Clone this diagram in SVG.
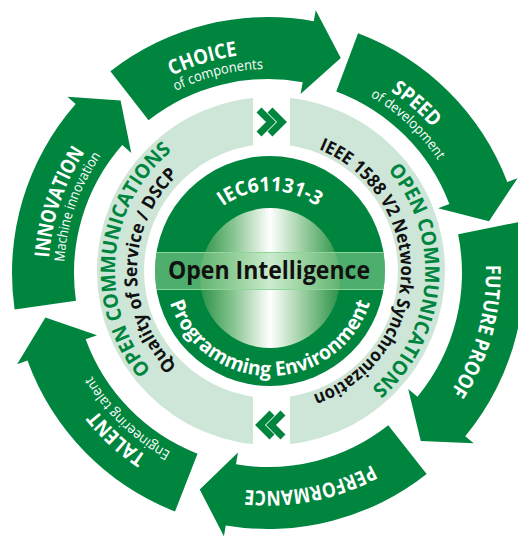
<svg xmlns="http://www.w3.org/2000/svg" width="518" height="539" viewBox="0 0 518 539">
<style>
  .arrow{fill:#00853e}
  .t{font-family:'Open Sans','Liberation Sans',sans-serif;text-anchor:middle}
  .big{font-weight:700;fill:#ffffff;font-size:20.5px}
  .small{font-weight:400;fill:#ffffff;font-size:14px}
  .oc{font-weight:700;fill:#00853e;font-size:20px}
  .blk{font-weight:700;fill:#111111;font-size:18px}
  .core{font-weight:700;fill:#ffffff;font-size:20px}
  .chev{fill:none;stroke:#00853e;stroke-width:7;stroke-linejoin:miter}
</style>
<defs>
  <!-- outer text arcs, centre 268,273, centred at top -->
  <path id="a219" d="M49.34,253.87 A219.5,219.5 0 0 1 486.66,253.87"/>
  <path id="a218" d="M50.83,254 A218,218 0 0 1 485.17,254"/>
  <path id="a204" d="M64.78,255.22 A204,204 0 0 1 471.22,255.22"/>
  <!-- inner text arcs, centre 270,271 -->
  <path id="a155" d="M115.59,257.49 A155,155 0 0 1 424.41,257.49"/>
  <path id="a133" d="M137.51,259.41 A133,133 0 0 1 402.49,259.41"/>
  <path id="a131" d="M139.50,259.58 A131,131 0 0 1 400.50,259.58"/>
  <path id="a80" d="M190.30,264.03 A80,80 0 0 1 349.70,264.03"/>
  <path id="a105b" d="M165.40,280.15 A105,105 0 0 0 374.60,280.15"/>
  <clipPath id="leftHalf"><rect x="0" y="0" width="253" height="539"/></clipPath>
  <clipPath id="rightHalf"><rect x="290" y="0" width="228" height="539"/></clipPath>
  <clipPath id="coreClip"><circle cx="270" cy="271" r="115"/></clipPath>
  <linearGradient id="cyl" x1="0" y1="0" x2="1" y2="0">
    <stop offset="0" stop-color="#2a9146"/>
    <stop offset="0.25" stop-color="#8cc794"/>
    <stop offset="0.5" stop-color="#ffffff"/>
    <stop offset="0.75" stop-color="#95cb9c"/>
    <stop offset="1" stop-color="#2a9146"/>
  </linearGradient>
</defs>

<rect width="518" height="539" fill="#ffffff"/>

<!-- outer arrows -->
<g id="choice">
  <path class="arrow" d="M110.39,71.27 A256,256 0 0 1 313.77,21.13 L315.74,10.30 L340.78,57.98 L300.54,93.93 L302.69,82.13 A194,194 0 0 0 148.56,120.13 Z"/>
  <text class="t big" transform="rotate(-17 268 273)"><textPath href="#a219" startOffset="50%" textLength="69" lengthAdjust="spacingAndGlyphs">CHOICE</textPath></text>
  <text class="t small" transform="rotate(-14.15 268 273)"><textPath href="#a204" startOffset="50%" textLength="91" lengthAdjust="spacingAndGlyphs">of components</textPath></text>
</g>
<g id="speed">
  <path class="arrow" d="M358.07,33.37 A256,256 0 0 1 507.32,182.09 L517.60,178.19 L489.00,221.16 L438.14,208.37 L449.36,204.11 A194,194 0 0 0 336.26,91.40 Z"/>
  <text class="t big" transform="rotate(41.25 268 273)"><textPath href="#a219" startOffset="50%" textLength="56" lengthAdjust="spacingAndGlyphs">SPEED</textPath></text>
  <text class="t small" transform="rotate(43.25 268 273)"><textPath href="#a204" startOffset="50%" textLength="94" lengthAdjust="spacingAndGlyphs">of development</textPath></text>
</g>
<g id="future-proof">
  <path class="arrow" d="M518.86,221.96 A256,256 0 0 1 465.25,436.18 L473.73,443.19 L420.77,440.90 L408.23,389.01 L417.48,396.66 A194,194 0 0 0 458.11,234.32 Z"/>
  <text class="t big" transform="rotate(105.5 268 273)"><textPath href="#a218" startOffset="50%" textLength="134" lengthAdjust="spacingAndGlyphs">FUTURE PROOF</textPath></text>
</g>
<g id="performance">
  <path class="arrow" d="M426.66,473.90 A256,256 0 0 1 225.75,525.49 L223.93,536.34 L199.74,489.49 L237.96,452.50 L235.98,464.34 A194,194 0 0 0 388.24,425.25 Z"/>
  <text class="t big" transform="rotate(168.75 268 273)"><textPath href="#a218" startOffset="50%" textLength="131" lengthAdjust="spacingAndGlyphs">PERFORMANCE</textPath></text>
</g>
<g id="talent">
  <path class="arrow" d="M175.01,511.51 A256,256 0 0 1 27.44,360.56 L17.10,364.32 L45.40,317.48 L96.98,335.25 L85.70,339.35 A194,194 0 0 0 197.53,453.75 Z"/>
  <text class="t big" transform="rotate(222.5 268 273)"><textPath href="#a219" startOffset="50%" textLength="68" lengthAdjust="spacingAndGlyphs">TALENT</textPath></text>
  <text class="t small" transform="rotate(224.1 268 273)"><textPath href="#a204" startOffset="50%" textLength="111" lengthAdjust="spacingAndGlyphs">Engineering talent</textPath></text>
</g>
<g id="innovation">
  <path class="arrow" d="M14.62,309.51 A256,256 0 0 1 75.68,104.04 L67.41,96.78 L120.58,100.39 L131.27,152.88 L122.25,144.96 A194,194 0 0 0 75.98,300.67 Z"/>
  <text class="t big" transform="rotate(-71.25 268 273)"><textPath href="#a219" startOffset="50%" textLength="113" lengthAdjust="spacingAndGlyphs">INNOVATION</textPath></text>
  <text class="t small" transform="rotate(-70.9 268 273)"><textPath href="#a204" startOffset="50%" textLength="114" lengthAdjust="spacingAndGlyphs">Machine innovation</textPath></text>
</g>

<!-- open communications ring -->
<g id="ring-left">
  <path clip-path="url(#leftHalf)" fill="#cde6d8" fill-rule="evenodd" d="M97,271 a174,174 0 1,0 348,0 a174,174 0 1,0 -348,0 Z M144,271 a127,127 0 1,0 254,0 a127,127 0 1,0 -254,0 Z"/>
  <text class="t oc" transform="rotate(-84.6 270 271)"><textPath href="#a155" startOffset="50%" textLength="245" lengthAdjust="spacingAndGlyphs">OPEN COMMUNICATIONS</textPath></text>
  <text class="t blk" transform="rotate(-89.7 270 271)"><textPath href="#a133" startOffset="50%" textLength="213" lengthAdjust="spacingAndGlyphs">Quality of Service / DSCP</textPath></text>
</g>
<g id="ring-right">
  <path clip-path="url(#rightHalf)" fill="#cde6d8" fill-rule="evenodd" d="M97,271 a174,174 0 1,0 348,0 a174,174 0 1,0 -348,0 Z M144,271 a127,127 0 1,0 254,0 a127,127 0 1,0 -254,0 Z"/>
  <text class="t oc" transform="rotate(94.25 270 271)"><textPath href="#a155" startOffset="50%" textLength="243" lengthAdjust="spacingAndGlyphs">OPEN COMMUNICATIONS</textPath></text>
  <text class="t blk" transform="rotate(91.4 270 271)"><textPath href="#a131" startOffset="50%" textLength="318" lengthAdjust="spacingAndGlyphs">IEEE 1588 V2 Network Synchronization</textPath></text>
</g>

<!-- core -->
<g id="core">
  <circle cx="270" cy="271" r="115" fill="#00853e"/>
  <circle cx="270" cy="278" r="70" fill="url(#cyl)"/>
  <g clip-path="url(#coreClip)">
    <rect x="150" y="252" width="240" height="38" fill="#9ad89e" fill-opacity="0.5"/>
    <line x1="150" y1="252.5" x2="390" y2="252.5" stroke="#8fd69a" stroke-width="1.2"/>
    <line x1="150" y1="289.5" x2="390" y2="289.5" stroke="#8fd69a" stroke-width="1.2"/>
  </g>
  <text class="t" x="269" y="278.5" font-weight="700" font-size="25" fill="#111111" textLength="202" lengthAdjust="spacingAndGlyphs">Open Intelligence</text>
  <text class="t core"><textPath href="#a80" startOffset="50%" textLength="101" lengthAdjust="spacingAndGlyphs">IEC61131-3</textPath></text>
  <text class="t core"><textPath href="#a105b" startOffset="50%" textLength="265" lengthAdjust="spacingAndGlyphs">Programming Environment</textPath></text>
</g>

<!-- flow chevrons -->
<g id="connectors">
  <polyline class="chev" points="259,110 271,122 259,134"/>
  <polyline class="chev" points="270,110 282,122 270,134"/>
  <polyline class="chev" points="283,413 271,425 283,437"/>
  <polyline class="chev" points="272,413 260,425 272,437"/>
</g>
</svg>
